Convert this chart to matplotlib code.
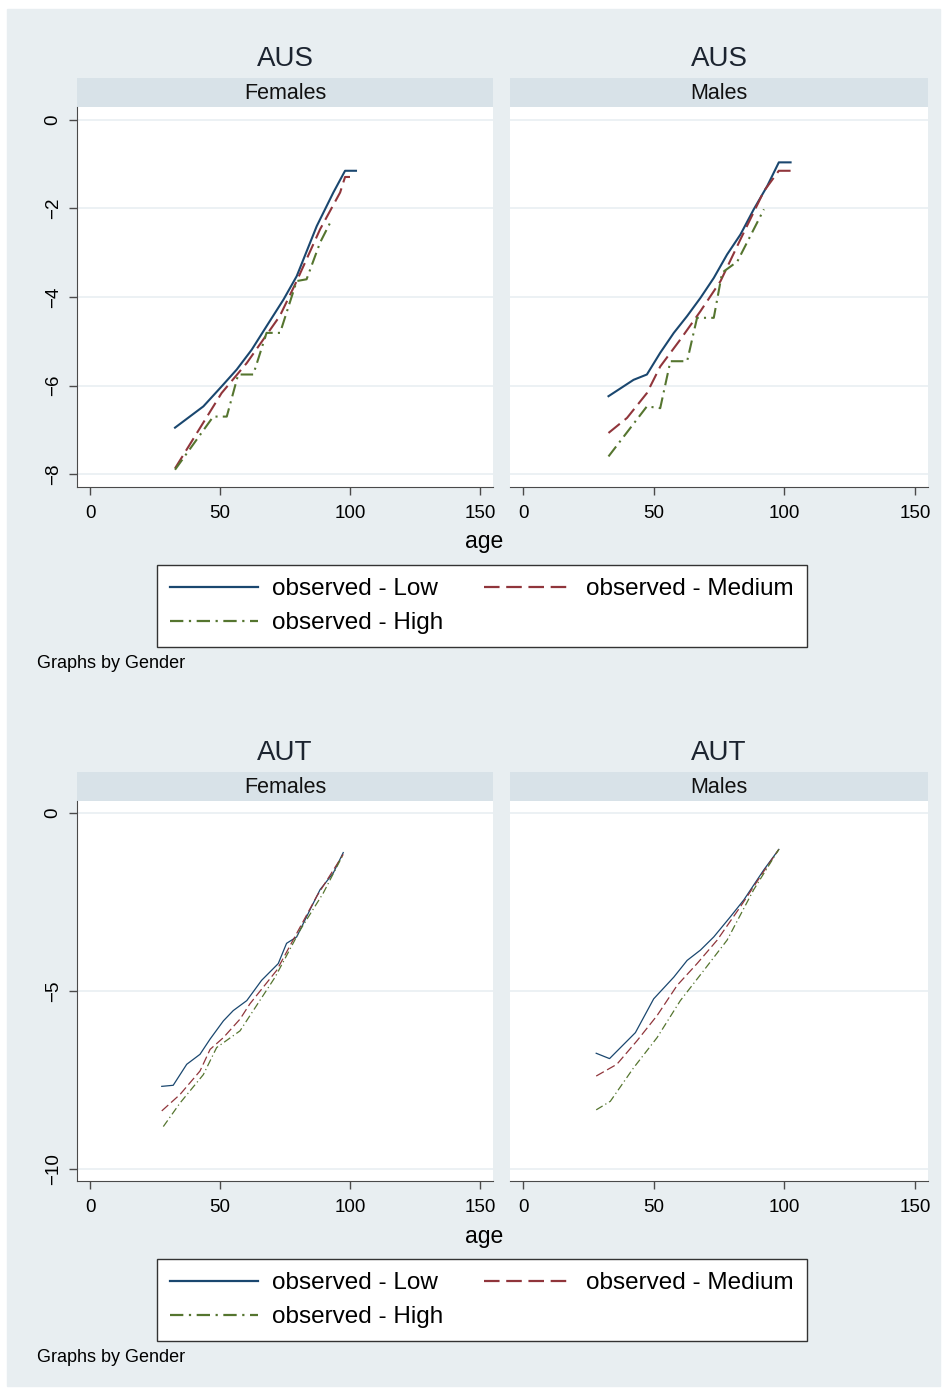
import matplotlib
matplotlib.use("Agg")
import matplotlib.pyplot as plt
from matplotlib.patches import Rectangle

plt.rcParams['font.family'] = ['Liberation Sans', 'DejaVu Sans']

# log mortality by age, education group (Low / Medium / High)
aus_f_low_age = [32.7, 43.6, 50.6, 56.4, 62.2, 67.9, 74.4, 79.5, 87.2, 93.6, 98.1, 102.3]
aus_f_low = [-6.95, -6.47, -6.02, -5.64, -5.19, -4.66, -4.06, -3.53, -2.40, -1.64, -1.15, -1.15]
aus_f_med_age = [32.7, 50.6, 60.3, 73.0, 79.5, 88.5, 96.2, 98.1, 100.0]
aus_f_med = [-7.87, -6.17, -5.49, -4.43, -3.64, -2.47, -1.64, -1.29, -1.29]
aus_f_high_age = [32.7, 47.4, 52.6, 57.0, 62.8, 67.9, 73.1, 79.5, 83.3, 88.5, 93.0]
aus_f_high = [-7.90, -6.70, -6.70, -5.75, -5.75, -4.81, -4.81, -3.64, -3.60, -2.77, -2.25]

aus_m_low_age = [32.7, 42.3, 47.4, 52.5, 57.7, 62.8, 67.9, 73.0, 78.1, 83.2, 88.3, 93.5, 97.9, 102.4]
aus_m_low = [-6.24, -5.87, -5.75, -5.26, -4.81, -4.43, -4.02, -3.57, -3.04, -2.59, -2.02, -1.49, -0.96, -0.96]
aus_m_med_age = [32.7, 39.8, 47.4, 52.5, 60.2, 67.9, 75.6, 83.2, 92.2, 97.9, 102.4]
aus_m_med = [-7.07, -6.73, -6.17, -5.57, -4.96, -4.32, -3.64, -2.70, -1.61, -1.15, -1.15]
aus_m_high_age = [32.7, 47.4, 52.5, 56.4, 62.8, 66.6, 73.0, 76.2, 82.0, 92.2]
aus_m_high = [-7.60, -6.47, -6.51, -5.45, -5.45, -4.47, -4.47, -3.45, -3.20, -2.02]

aut_f_low_age = [27.6, 32.0, 37.2, 42.3, 46.2, 51.3, 55.1, 60.3, 66.0, 72.4, 75.6, 79.5, 84.6, 88.5, 93.6, 97.4]
aut_f_low = [-7.68, -7.65, -7.06, -6.78, -6.35, -5.84, -5.55, -5.27, -4.70, -4.23, -3.66, -3.48, -2.72, -2.15, -1.68, -1.11]
aut_f_med_age = [27.6, 34.6, 42.3, 46.2, 51.3, 57.7, 61.5, 71.8, 79.5, 87.2, 97.4]
aut_f_med = [-8.37, -7.91, -7.25, -6.64, -6.31, -5.79, -5.36, -4.42, -3.38, -2.34, -1.16]
aut_f_high_age = [28.2, 34.6, 43.6, 48.7, 57.7, 62.8, 71.2, 80.8, 89.7, 97.4]
aut_f_high = [-8.81, -8.15, -7.35, -6.59, -6.12, -5.55, -4.61, -3.29, -2.25, -1.16]

aut_m_low_age = [28.0, 33.1, 43.0, 50.0, 57.7, 62.8, 67.9, 73.0, 79.4, 84.5, 92.2, 97.9]
aut_m_low = [-6.75, -6.90, -6.17, -5.22, -4.61, -4.14, -3.85, -3.48, -2.91, -2.44, -1.59, -1.02]
aut_m_med_age = [28.0, 35.9, 43.6, 51.3, 59.0, 66.6, 74.3, 83.2, 92.2, 97.9]
aut_m_med = [-7.39, -7.06, -6.40, -5.69, -4.84, -4.23, -3.57, -2.63, -1.63, -1.02]
aut_m_high_age = [28.0, 33.4, 42.3, 51.3, 60.2, 69.2, 78.1, 88.3, 97.9]
aut_m_high = [-8.34, -8.10, -7.16, -6.31, -5.27, -4.42, -3.57, -2.15, -1.02]

genders = ["Females", "Males"]
labels = ["observed - Low", "observed - Medium", "observed - High"]
x_ticks = [0, 50, 100, 150]
aus_y_ticks = [0, -2, -4, -6, -8]
aut_y_ticks = [0, -5, -10]

colors = ["#1a476f", "#90353b", "#55752f"]
styles = ["-", (0, (7, 3)), (0, (6, 2.5, 1, 2.5))]

W, H = 948, 1390
BG = "#e8eef1"
STRIP = "#d8e2e8"
GRID = "#eaf0f3"
AXC = "#4a4a4a"

fig = plt.figure(figsize=(W / 100, H / 100), dpi=100)
fig.patch.set_facecolor("white")
fig.patches.append(Rectangle((7 / W, 1 - 1386 / H), 933 / W, 1377 / H,
                             transform=fig.transFigure, color=BG, zorder=-10))


def box(x0, y0, x1, y1):
    return [x0 / W, 1 - y1 / H, (x1 - x0) / W, (y1 - y0) / H]


def draw_graph(top, country, panels, yticks, ylim, lw):
    handles = []
    for i, (gender, series) in enumerate(zip(genders, panels)):
        x0, x1 = (77, 493) if i == 0 else (510, 928)
        # strip with the gender name
        sax = fig.add_axes(box(x0, top + 20, x1, top + 49))
        sax.set_facecolor(STRIP)
        sax.set_xticks([])
        sax.set_yticks([])
        for s in sax.spines.values():
            s.set_visible(False)
        sax.text(0.5, 0.45, gender, ha="center", va="center", fontsize=15.5,
                 color="#111111", transform=sax.transAxes)
        fig.text((x0 + x1) / 2 / W, 1 - (top + 1) / H, country, ha="center",
                 va="center", fontsize=20, color="#1c2430")

        ax = fig.add_axes(box(x0, top + 49, x1, top + 429))
        ax.set_facecolor("white")
        for (ages, vals), c, ls, lab in zip(series, colors, styles, labels):
            ln, = ax.plot(ages, vals, color=c, linestyle=ls, lw=lw, label=lab)
            handles.append(ln)
        ax.set_xlim(-5, 155)
        ax.set_ylim(*ylim)
        ax.set_xticks(x_ticks)
        ax.set_yticks(yticks)
        ax.grid(axis="y", color=GRID, lw=1.3)
        ax.set_axisbelow(True)
        for side in ["top", "right"]:
            ax.spines[side].set_visible(False)
        ax.spines["bottom"].set_color(AXC)
        ax.spines["left"].set_color(AXC)
        ax.tick_params(axis="x", length=6, width=1, color=AXC, labelsize=13.5,
                       pad=7)
        ax.tick_params(axis="y", length=6, width=1, color=AXC, labelsize=13.5,
                       labelrotation=90, pad=5)
        for t in ax.get_yticklabels():
            t.set_va("center")
        if i == 1:
            ax.spines["left"].set_visible(False)
            ax.tick_params(axis="y", left=False, labelleft=False)

    fig.text(484 / W, 1 - (top + 484) / H, "age", ha="center", va="center",
             fontsize=16.5)
    h = handles[:3]
    leg = fig.legend([h[0], h[2], h[1]], [labels[0], labels[2], labels[1]],
                     ncol=2, loc="upper left",
                     bbox_to_anchor=(157 / W, 1 - (top + 507) / H),
                     fontsize=17.5, frameon=True, fancybox=False,
                     edgecolor="#333333", facecolor="white", framealpha=1,
                     borderaxespad=0, borderpad=0.55, handlelength=3.6,
                     handletextpad=0.6, columnspacing=1.65, labelspacing=0.48)
    leg.get_frame().set_linewidth(1.0)
    for ln in leg.get_lines():
        ln.set_linewidth(1.6)
    fig.text(37 / W, 1 - (top + 606) / H, "Graphs by Gender", ha="left",
             va="center", fontsize=13)


aus_panels = [
    [(aus_f_low_age, aus_f_low), (aus_f_med_age, aus_f_med), (aus_f_high_age, aus_f_high)],
    [(aus_m_low_age, aus_m_low), (aus_m_med_age, aus_m_med), (aus_m_high_age, aus_m_high)],
]
aut_panels = [
    [(aut_f_low_age, aut_f_low), (aut_f_med_age, aut_f_med), (aut_f_high_age, aut_f_high)],
    [(aut_m_low_age, aut_m_low), (aut_m_med_age, aut_m_med), (aut_m_high_age, aut_m_high)],
]

draw_graph(58, "AUS", aus_panels, aus_y_ticks, (-8.29, 0.29), 1.5)
draw_graph(752, "AUT", aut_panels, aut_y_ticks, (-10.34, 0.34), 0.9)

fig.savefig("out.png", dpi=100)
